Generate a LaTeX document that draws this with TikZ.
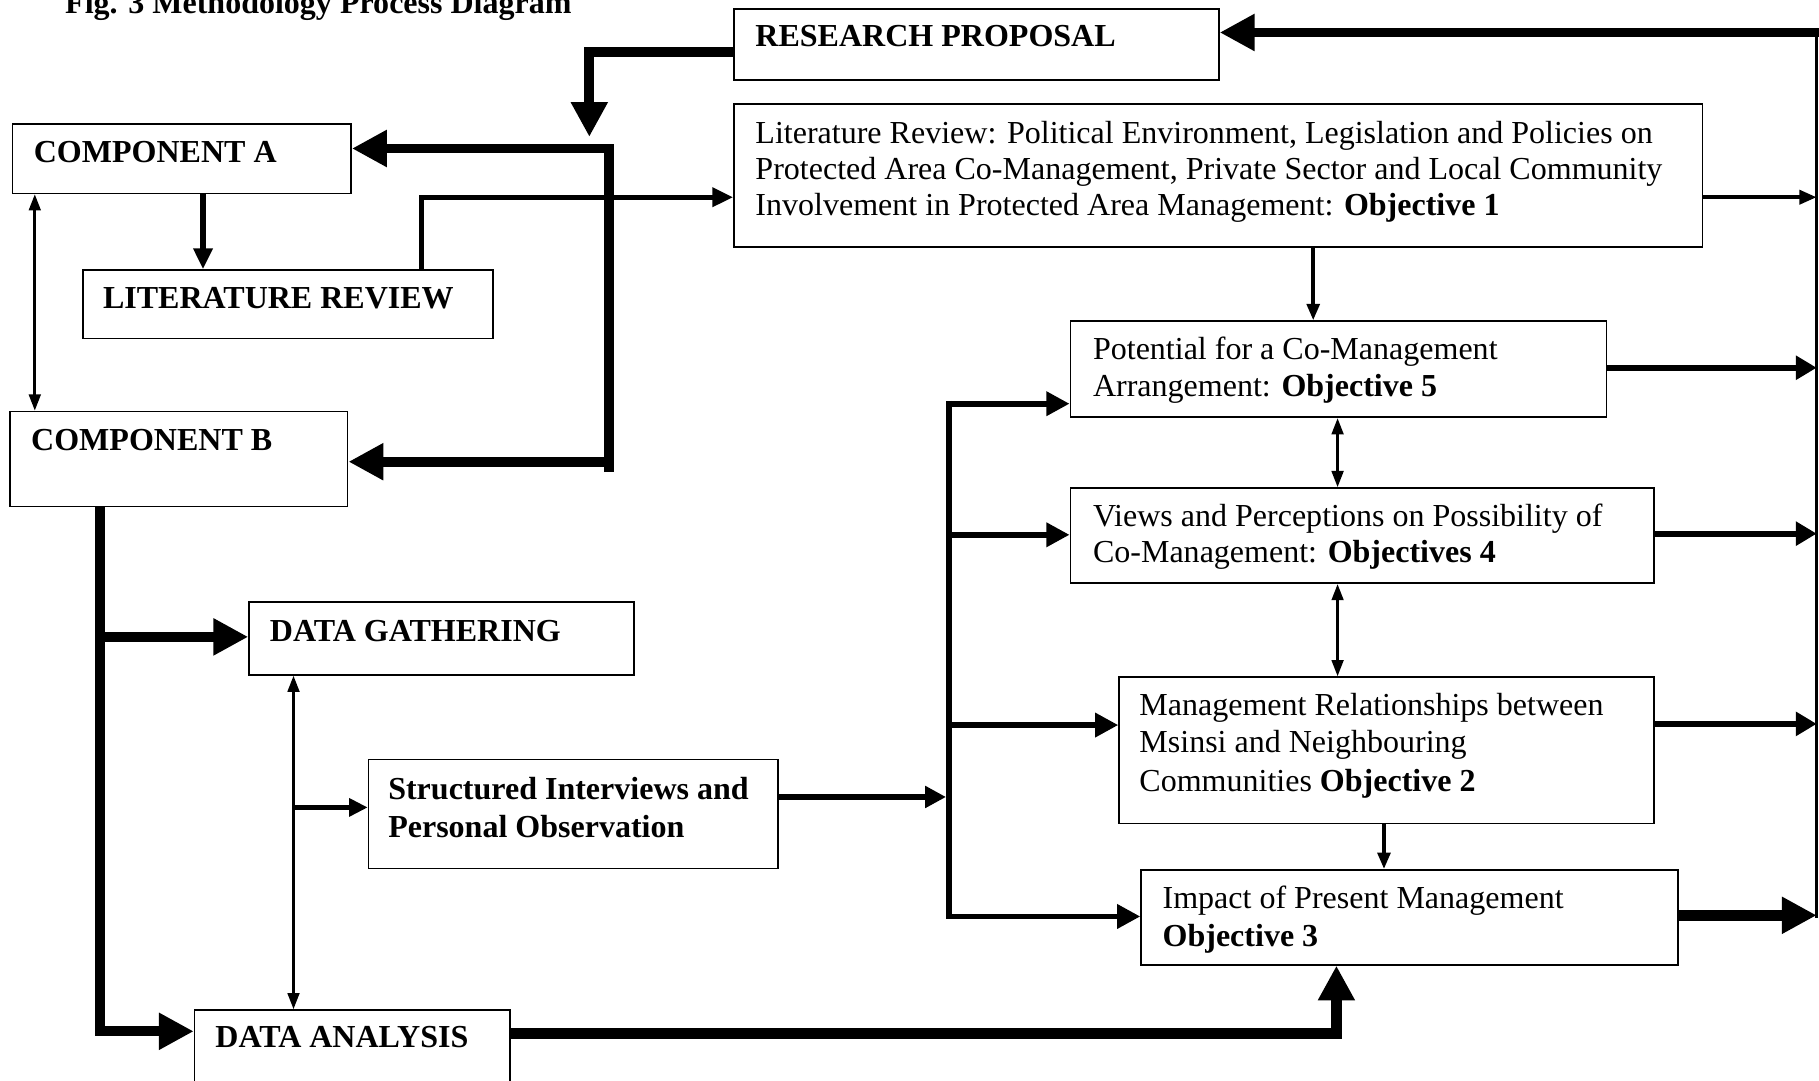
\documentclass[tikz,border=0pt]{standalone}
\usepackage{fontspec}
\setmainfont{Liberation Serif}
\usetikzlibrary{arrows.meta}

\tikzset{
  box/.style={draw, line width=1.4pt, inner sep=0pt, anchor=north west},
  lbl/.style={anchor=base west, inner sep=0pt, font=\fontsize{27.6}{31}\selectfont},
  hd/.style={anchor=base west, inner sep=0pt, font=\fontsize{27.6}{31}\selectfont\bfseries},
  heavy/.style={line width=8.5pt, -{Triangle[length=30pt,width=30pt]}},
  heavyline/.style={line width=8.5pt},
  busline/.style={line width=5pt},
  busarr/.style={line width=5pt, -{Triangle[length=20pt,width=20pt]}},
  midarr/.style={line width=4.5pt, -{Triangle[length=18pt,width=16pt]}},
  thinarr/.style={line width=3pt, -{Triangle[length=14pt,width=11pt]}},
  thinboth/.style={line width=2.5pt, {Triangle[length=14pt,width=10pt]}-{Triangle[length=14pt,width=10pt]}},
  sidearr/.style={line width=5pt, -{Triangle[length=18pt,width=20pt]}},
}

\begin{document}
\begin{tikzpicture}[x=1pt,y=-1pt]
\useasboundingbox (0,0) rectangle (1568,931);

% title line along the top edge
\node[hd] (title) at (56,11.5) {Fig. 3 Methodology Process Diagram};

% boxes
\node[box, minimum width=418pt, minimum height=61pt]  (rp)     at (632,7)   {};
\node[box, minimum width=835pt, minimum height=123pt] (obj1)   at (632,89)  {};
\node[box, minimum width=292pt, minimum height=60pt]  (compa)  at (10,106)  {};
\node[box, minimum width=353pt, minimum height=59pt]  (litrev) at (71,232)  {};
\node[box, minimum width=291pt, minimum height=82pt]  (compb)  at (8,354)   {};
\node[box, minimum width=462pt, minimum height=83pt]  (pot)    at (922,276) {};
\node[box, minimum width=503pt, minimum height=82pt]  (views)  at (922,420) {};
\node[box, minimum width=461pt, minimum height=126pt] (mgmt)   at (964,583) {};
\node[box, minimum width=463pt, minimum height=82pt]  (impact) at (983,749) {};
\node[box, minimum width=332pt, minimum height=63pt]  (dg)     at (214,518) {};
\node[box, minimum width=353pt, minimum height=94pt]  (struct) at (317,654) {};
\node[box, minimum width=272pt, minimum height=80pt]  (da)     at (167,870) {};

% box texts
\node[hd] (rp-t) at (651,40) {RESEARCH PROPOSAL};
\node[lbl] (obj1-a) at (651,123.5) {Literature Review: Political Environment, Legislation and Policies on};
\node[lbl] (obj1-b) at (651,154.5) {Protected Area Co-Management, Private Sector and Local Community};
\node[lbl] (obj1-c) at (651,185.5) {Involvement in Protected Area Management: \textbf{Objective 1}};
\node[hd] (compa-t) at (29,140.5) {COMPONENT A};
\node[hd] (litrev-t) at (88.6,265.7) {LITERATURE REVIEW};
\node[hd] (compb-t) at (26.7,388) {COMPONENT B};
\node[lbl] (pot-a) at (942,310) {Potential for a Co-Management};
\node[lbl] (pot-b) at (942,341.5) {Arrangement: \textbf{Objective 5}};
\node[lbl] (views-a) at (942,453.5) {Views and Perceptions on Possibility of};
\node[lbl] (views-b) at (942,485) {Co-Management: \textbf{Objectives 4}};
\node[lbl] (mgmt-a) at (982,616.5) {Management Relationships between};
\node[lbl] (mgmt-b) at (982,648.5) {Msinsi and Neighbouring};
\node[lbl] (mgmt-c) at (982,682.5) {Communities \textbf{Objective 2}};
\node[lbl] (impact-a) at (1002,783) {Impact of Present Management};
\node[hd] (impact-b) at (1002,816) {Objective 3};
\node[hd] (dg-t) at (232.5,553) {DATA GATHERING};
\node[hd] (struct-a) at (334.5,689) {Structured Interviews and};
\node[hd] (struct-b) at (334.5,721.6) {Personal Observation};
\node[hd] (da-t) at (185.5,903) {DATA ANALYSIS};

% return line on the right edge
\coordinate (rtop) at (1566,28);
\coordinate (rcorner) at (1570,28);
\coordinate (rbot) at (1566,791.5);
\draw[line width=3pt] (1566,24) -- (rbot);
\draw[heavy] (rcorner) -- (rtop -| rp.east);

% proposal down into the component bracket
\coordinate (drop) at (508,118);
\draw[heavy] (rp.west |- 0,45) -| (drop);

% bracket feeding both components
\coordinate (brbot) at (525,407);
\coordinate (jB) at (529,398);
\draw[heavy] (brbot) |- (compa.east |- 0,128);
\draw[heavy] (jB) -- (compb.east |- jB);

% component A and literature review
\draw[midarr] (compa.south -| 175,0) -- (litrev.north -| 175,0);
\draw[midarr] (litrev.north -| 363,0) |- (obj1.west |- 0,170);
\draw[thinboth] (compa.south -| 30,0) -- (compb.north -| 30,0);

% objective column
\draw[thinarr] (obj1.south -| 1132,0) -- (pot.north -| 1132,0);
\draw[thinboth] (pot.south -| 1153,0) -- (views.north -| 1153,0);
\draw[thinboth] (views.south -| 1153,0) -- (mgmt.north -| 1153,0);
\draw[thinarr] (mgmt.south -| 1193,0) -- (impact.north -| 1193,0);

% objectives into the right return line
\draw[line width=3.5pt, -{Triangle[length=15pt,width=12pt]}] (obj1.east |- 0,170) -- (rtop |- 0,170);
\draw[sidearr] (pot.east |- 0,317) -- (rtop |- 0,317);
\draw[sidearr] (views.east |- 0,460) -- (rtop |- 0,460);
\draw[sidearr] (mgmt.east |- 0,624) -- (rtop |- 0,624);
\draw[line width=9pt, -{Triangle[length=30pt,width=30pt]}] (impact.east |- 0,789) -- (rtop |- 0,789);

% distribution bus from the interviews
\coordinate (bustop) at (818,345.5);
\coordinate (busin) at (815.5,687);
\draw[busarr] (bustop) |- (impact.west |- 0,790);
\draw[busarr] (815.5,348) -- (pot.west |- 0,348);
\draw[busarr] (818,461) -- (views.west |- 0,461);
\draw[busarr] (818,625) -- (mgmt.west |- 0,625);
\draw[line width=5pt, -{Triangle[length=18pt,width=18pt]}] (struct.east |- busin) -- (busin);

% component B into data gathering and analysis
\draw[heavy] (compb.south -| 86,0) |- (da.west |- 0,889);
\draw[heavy] (86,549) -- (dg.west |- 0,549);
\draw[thinboth] (dg.south -| 253,0) -- (da.north -| 253,0);
\draw[line width=4pt, -{Triangle[length=16pt,width=15pt]}] (253,696) -- (struct.west |- 0,696);

% analysis up into impact
\draw[line width=9pt, -{Triangle[length=30pt,width=30pt]}] (da.east |- 0,891) -| (impact.south -| 1152,0);
\end{tikzpicture}
\end{document}
